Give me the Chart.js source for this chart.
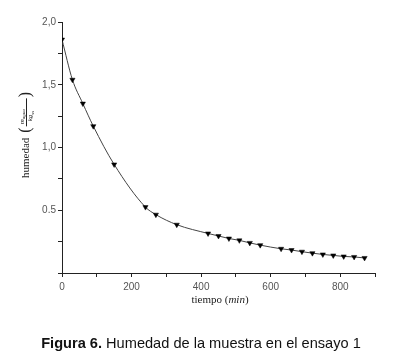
<!DOCTYPE html>
<html>
<head>
<meta charset="utf-8">
<script src="https://cdn.jsdelivr.net/npm/chart.js@4/dist/chart.umd.min.js"></script>
<style>
    body { margin: 0; background: #fff; }
    #wrap { position: relative; width: 402px; height: 354px; }
    #caption {
        position: absolute; left: 0; width: 402px; top: 335px;
        text-align: center; font: 14.6px "Liberation Sans", Arial, sans-serif; color: #111;
    }
</style>
</head>
<body>
<div id="wrap">
    <canvas id="chart-humedad" width="402" height="354"></canvas>
    <div id="caption"><b>Figura 6.</b> Humedad de la muestra en el ensayo 1</div>
</div>
<script>
const tiempo = [0, 30, 60, 90, 150, 240, 270, 330, 420, 450, 480, 510, 540, 570, 630, 660, 690, 720, 750, 780, 810, 840, 870];
const humedad = [1.86, 1.54, 1.35, 1.17, 0.865, 0.525, 0.465, 0.385, 0.315, 0.295, 0.275, 0.26, 0.24, 0.222, 0.193, 0.183, 0.17, 0.158, 0.148, 0.14, 0.132, 0.128, 0.12];
const xTickLabels = { 0: '0', 200: '200', 400: '400', 600: '600', 800: '800' };
const yTickLabels = { 0.5: '0.5', 1: '1,0', 1.5: '1,5', 2: '2,0' };

const tickFont = { family: '"Liberation Sans", Arial, sans-serif', size: 10 };
const serif = '"Liberation Serif", "DejaVu Serif", serif';

// axis titles drawn by hand, the y one has a small fraction in it
const axisTitles = {
    id: 'axisTitles',
    afterDraw(chart) {
        const ctx = chart.ctx;
        ctx.save();
        ctx.fillStyle = '#222';
        ctx.textBaseline = 'middle';
        ctx.textAlign = 'left';

        // x title: tiempo (min)
        ctx.font = `11px ${serif}`;
        const head = 'tiempo (';
        const wHead = ctx.measureText(head).width;
        const wTail = ctx.measureText(')').width;
        ctx.font = `italic 11px ${serif}`;
        const wMin = ctx.measureText('min').width;
        let x = 220 - (wHead + wMin + wTail) / 2;
        const y = 300;
        ctx.font = `11px ${serif}`;
        ctx.fillText(head, x, y);
        x += wHead;
        ctx.font = `italic 11px ${serif}`;
        ctx.fillText('min', x, y);
        x += wMin;
        ctx.font = `11px ${serif}`;
        ctx.fillText(')', x, y);

        // y title, rotated
        ctx.translate(26, 178);
        ctx.rotate(-Math.PI / 2);
        ctx.font = `11px ${serif}`;
        ctx.fillText('humedad', 0, 0);
        let p = ctx.measureText('humedad').width + 5;
        ctx.font = `16px ${serif}`;
        ctx.fillText('(', p, 0);
        p += ctx.measureText('(').width + 1;

        const fracW = 28;
        ctx.strokeStyle = '#222';
        ctx.lineWidth = 1;
        ctx.beginPath();
        ctx.moveTo(p, 0.5);
        ctx.lineTo(p + fracW, 0.5);
        ctx.stroke();

        ctx.font = `italic 7px ${serif}`;
        ctx.fillText('m', p + 2, -3.5);
        let q = p + 2 + ctx.measureText('m').width;
        ctx.font = `italic 5px ${serif}`;
        ctx.fillText('agua', q, -2);

        ctx.font = `italic 7px ${serif}`;
        ctx.fillText('kg', p + 5, 4.5);
        q = p + 5 + ctx.measureText('kg').width;
        ctx.font = `italic 5px ${serif}`;
        ctx.fillText('ss', q, 6.5);

        p += fracW + 1;
        ctx.font = `16px ${serif}`;
        ctx.fillText(')', p, 0);
        ctx.restore();
    }
};

const chart = new Chart(
    document.getElementById('chart-humedad'),
    {
        type: 'line',
        data: {
            datasets: [
                {
                    label: 'humedad',
                    data: tiempo.map((t, i) => ({ x: t, y: humedad[i] })),
                    borderColor: '#444',
                    borderWidth: 1,
                    cubicInterpolationMode: 'monotone',
                    pointStyle: 'triangle',
                    rotation: 180,
                    pointRadius: 3,
                    pointBackgroundColor: '#000',
                    pointBorderColor: '#000',
                    pointBorderWidth: 0.5
                }
            ]
        },
        plugins: [axisTitles],
        options: {
            responsive: false,
            animation: false,
            layout: {
                padding: { top: 22, right: 27, bottom: 0, left: 0 }
            },
            scales: {
                x: {
                    type: 'linear',
                    min: 0,
                    max: 900,
                    afterFit: scale => { scale.height = 81; },
                    border: { display: true, color: '#222', width: 1 },
                    grid: { drawOnChartArea: false, drawTicks: true, tickLength: 4, color: '#222' },
                    ticks: {
                        stepSize: 100,
                        autoSkip: false,
                        maxRotation: 0,
                        padding: 4,
                        color: '#555',
                        font: tickFont,
                        callback: v => xTickLabels[v] ?? ''
                    }
                },
                y: {
                    min: 0,
                    max: 2,
                    afterFit: scale => { scale.width = 62; },
                    border: { display: true, color: '#222', width: 1 },
                    grid: { drawOnChartArea: false, drawTicks: true, tickLength: 4, color: '#222' },
                    ticks: {
                        stepSize: 0.25,
                        autoSkip: false,
                        padding: 2,
                        color: '#555',
                        font: tickFont,
                        callback: v => yTickLabels[v] ?? ''
                    }
                }
            },
            plugins: {
                legend: { display: false },
                tooltip: { enabled: false }
            }
        }
    }
);
</script>
</body>
</html>
